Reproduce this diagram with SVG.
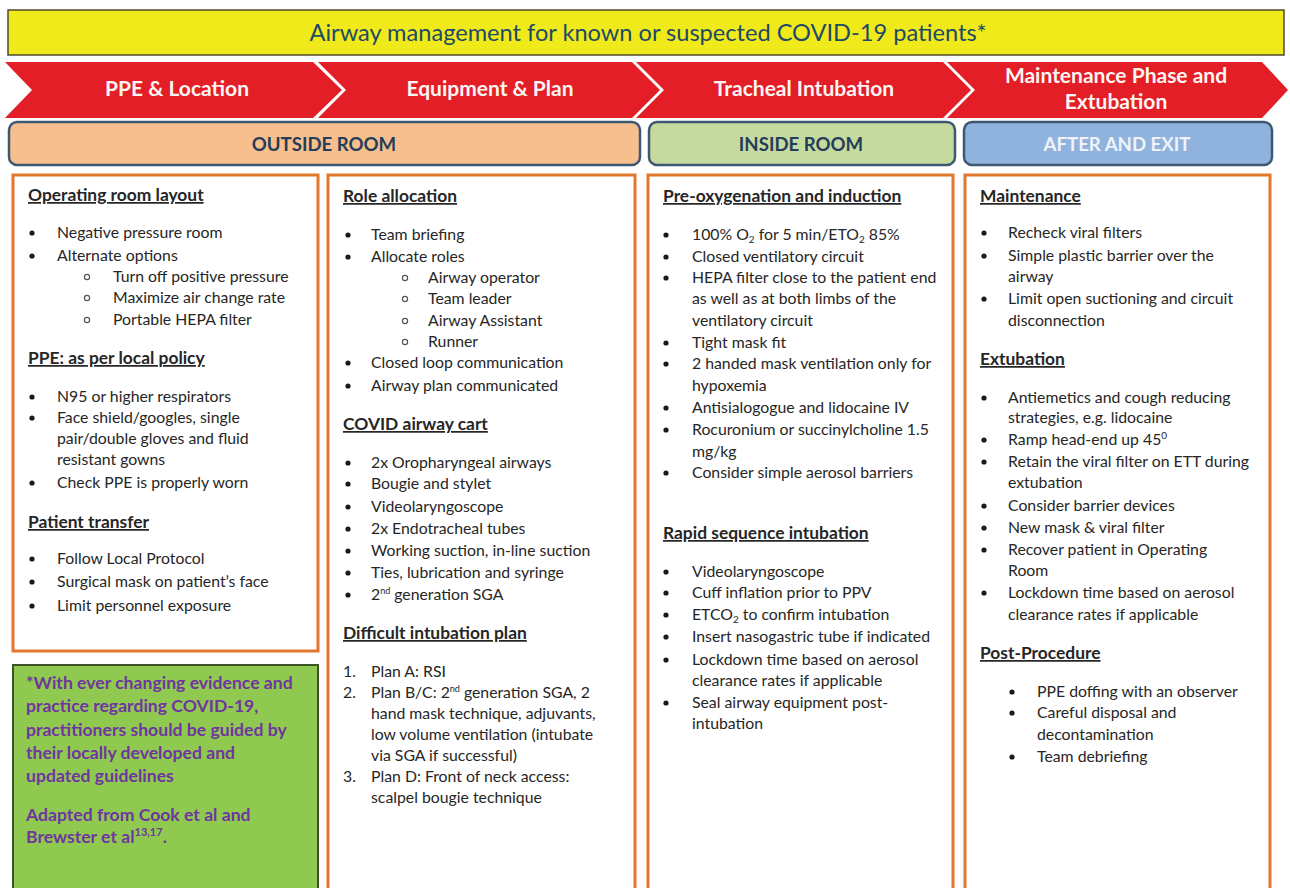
<svg xmlns="http://www.w3.org/2000/svg" width="1290" height="888" viewBox="0 0 1290 888">
  <style>
    .t { font-family: Lato, "Liberation Sans", sans-serif; font-size: 15.8px; fill: #262626; }
    .h { font-family: Lato, "Liberation Sans", sans-serif; font-size: 17.4px; font-weight: bold; fill: #262626; text-decoration: underline; }
    .chev { fill: #e41e26; }
    .ct { font-family: Lato, "Liberation Sans", sans-serif; font-size: 21px; font-weight: bold; fill: #fbf6f4; text-anchor: middle; }
    .room { stroke: #3e5873; stroke-width: 2.5; }
    .rt { font-family: Lato, "Liberation Sans", sans-serif; font-size: 18.6px; font-weight: bold; text-anchor: middle; }
    .col { fill: #ffffff; stroke: #e2772d; stroke-width: 3; }
    .dot { fill: #1a1a1a; }
    .ring { fill: none; stroke: #555555; stroke-width: 1.2; }
    .note { font-family: Lato, "Liberation Sans", sans-serif; font-size: 17.6px; font-weight: bold; fill: #6f35a0; }
  </style>

  <rect x="0" y="0" width="1290" height="888" fill="#ffffff"/>

  <!-- title banner -->
  <g id="title">
    <rect x="8" y="10" width="1276" height="45" fill="#f1ea1a" stroke="#4c4a2c" stroke-width="1.5"/>
    <text x="648" y="41" text-anchor="middle" font-family="Lato, 'Liberation Sans', sans-serif" font-size="23.6" fill="#1d4a66">Airway management for known or suspected COVID-19 patients*</text>
  </g>

  <!-- phase chevrons -->
  <g id="phase-ppe">
    <polygon class="chev" points="5,62 313,62 342,90 313,118 5,118 32,90"/>
    <text class="ct" x="177" y="96">PPE &amp; Location</text>
  </g>
  <g id="phase-equipment">
    <polygon class="chev" points="318,62 632,62 660,90 632,118 318,118 346,90"/>
    <text class="ct" x="490" y="96">Equipment &amp; Plan</text>
  </g>
  <g id="phase-intubation">
    <polygon class="chev" points="636,62 943,62 971,90 943,118 636,118 664,90"/>
    <text class="ct" x="804" y="96">Tracheal Intubation</text>
  </g>
  <g id="phase-maintenance">
    <polygon class="chev" points="947,62 1262,62 1288,90 1262,118 947,118 975,90"/>
    <text class="ct" x="1116" y="83">Maintenance Phase and</text>
    <text class="ct" x="1116" y="109">Extubation</text>
  </g>

  <!-- location bars -->
  <g id="outside-room">
    <rect class="room" x="9" y="122" width="631" height="43" rx="8" fill="#f8bf8e"/>
    <text class="rt" x="324" y="151" fill="#243d58">OUTSIDE ROOM</text>
  </g>
  <g id="inside-room">
    <rect class="room" x="649" y="122" width="306" height="43" rx="8" fill="#c5da9f"/>
    <text class="rt" x="801" y="151" fill="#243d58">INSIDE ROOM</text>
  </g>
  <g id="after-exit">
    <rect class="room" x="964" y="122" width="308" height="43" rx="8" fill="#90b3dd"/>
    <text class="rt" x="1117" y="151" fill="#eef3fa">AFTER AND EXIT</text>
  </g>

  <!-- column 1: operating room, PPE, transfer -->
  <g id="col-ppe-location">
    <rect class="col" x="13" y="175" width="305" height="476"/>
    <text class="h" x="28" y="201">Operating room layout</text>
    <circle class="dot" cx="32" cy="233" r="2.6"/><text class="t" x="57" y="238">Negative pressure room</text>
    <circle class="dot" cx="32" cy="256" r="2.6"/><text class="t" x="57" y="261">Alternate options</text>
    <circle class="ring" cx="87" cy="277" r="2.6"/><text class="t" x="113" y="282">Turn off positive pressure</text>
    <circle class="ring" cx="87" cy="298" r="2.6"/><text class="t" x="113" y="303">Maximize air change rate</text>
    <circle class="ring" cx="87" cy="320" r="2.6"/><text class="t" x="113" y="325">Portable HEPA filter</text>
    <text class="h" x="28" y="364">PPE: as per local policy</text>
    <circle class="dot" cx="32" cy="397" r="2.6"/><text class="t" x="57" y="402">N95 or higher respirators</text>
    <circle class="dot" cx="32" cy="418" r="2.6"/><text class="t" x="57" y="423">Face shield/googles, single</text>
    <text class="t" x="57" y="444">pair/double gloves and fluid</text>
    <text class="t" x="57" y="465">resistant gowns</text>
    <circle class="dot" cx="32" cy="483" r="2.6"/><text class="t" x="57" y="488">Check PPE is properly worn</text>
    <text class="h" x="28" y="528">Patient transfer</text>
    <circle class="dot" cx="32" cy="559" r="2.6"/><text class="t" x="57" y="564">Follow Local Protocol</text>
    <circle class="dot" cx="32" cy="582" r="2.6"/><text class="t" x="57" y="587">Surgical mask on patient’s face</text>
    <circle class="dot" cx="32" cy="606" r="2.6"/><text class="t" x="57" y="611">Limit personnel exposure</text>
  </g>

  <!-- footnote panel -->
  <g id="footnote">
    <rect x="13" y="665" width="305" height="240" fill="#8fc94f" stroke="#3b5326" stroke-width="2"/>
    <text class="note" x="26" y="689">*With ever changing evidence and</text>
    <text class="note" x="26" y="712">practice regarding COVID-19,</text>
    <text class="note" x="26" y="736">practitioners should be guided by</text>
    <text class="note" x="26" y="759">their locally developed and</text>
    <text class="note" x="26" y="782">updated guidelines</text>
    <text class="note" x="26" y="821">Adapted from Cook et al and</text>
    <text class="note" x="26" y="843">Brewster et al<tspan font-size="11" dy="-7">13,17</tspan><tspan dy="7">.</tspan></text>
  </g>

  <!-- column 2: roles, cart, plan -->
  <g id="col-equipment-plan">
    <rect class="col" x="328" y="175" width="307" height="730"/>
    <text class="h" x="343" y="202">Role allocation</text>
    <circle class="dot" cx="348" cy="235" r="2.6"/><text class="t" x="371" y="240">Team briefing</text>
    <circle class="dot" cx="348" cy="257" r="2.6"/><text class="t" x="371" y="262">Allocate roles</text>
    <circle class="ring" cx="405" cy="278" r="2.6"/><text class="t" x="428" y="283">Airway operator</text>
    <circle class="ring" cx="405" cy="299" r="2.6"/><text class="t" x="428" y="304">Team leader</text>
    <circle class="ring" cx="405" cy="321" r="2.6"/><text class="t" x="428" y="326">Airway Assistant</text>
    <circle class="ring" cx="405" cy="342" r="2.6"/><text class="t" x="428" y="347">Runner</text>
    <circle class="dot" cx="348" cy="363" r="2.6"/><text class="t" x="371" y="368">Closed loop communication</text>
    <circle class="dot" cx="348" cy="386" r="2.6"/><text class="t" x="371" y="391">Airway plan communicated</text>
    <text class="h" x="343" y="430">COVID airway cart</text>
    <circle class="dot" cx="348" cy="463" r="2.6"/><text class="t" x="371" y="468">2x Oropharyngeal airways</text>
    <circle class="dot" cx="348" cy="484" r="2.6"/><text class="t" x="371" y="489">Bougie and stylet</text>
    <circle class="dot" cx="348" cy="507" r="2.6"/><text class="t" x="371" y="512">Videolaryngoscope</text>
    <circle class="dot" cx="348" cy="529" r="2.6"/><text class="t" x="371" y="534">2x Endotracheal tubes</text>
    <circle class="dot" cx="348" cy="551" r="2.6"/><text class="t" x="371" y="556">Working suction, in-line suction</text>
    <circle class="dot" cx="348" cy="573" r="2.6"/><text class="t" x="371" y="578">Ties, lubrication and syringe</text>
    <circle class="dot" cx="348" cy="595" r="2.6"/><text class="t" x="371" y="600">2<tspan font-size="9" dy="-6">nd</tspan><tspan dy="6"> generation SGA</tspan></text>
    <text class="h" x="343" y="639">Difficult intubation plan</text>
    <text class="t" x="343" y="677">1.</text><text class="t" x="371" y="677">Plan A: RSI</text>
    <text class="t" x="343" y="698">2.</text><text class="t" x="371" y="698">Plan B/C: 2<tspan font-size="9" dy="-6">nd</tspan><tspan dy="6"> generation SGA, 2</tspan></text>
    <text class="t" x="371" y="719">hand mask technique, adjuvants,</text>
    <text class="t" x="371" y="740">low volume ventilation (intubate</text>
    <text class="t" x="371" y="761">via SGA if successful)</text>
    <text class="t" x="343" y="782">3.</text><text class="t" x="371" y="782">Plan D: Front of neck access:</text>
    <text class="t" x="371" y="803">scalpel bougie technique</text>
  </g>

  <!-- column 3: induction and intubation -->
  <g id="col-intubation">
    <rect class="col" x="648" y="175" width="305" height="730"/>
    <text class="h" x="663" y="202">Pre-oxygenation and induction</text>
    <circle class="dot" cx="666" cy="235" r="2.6"/><text class="t" x="692" y="240">100% O<tspan font-size="10" dy="3">2</tspan><tspan dy="-3"> for 5 min/ETO</tspan><tspan font-size="10" dy="3">2</tspan><tspan dy="-3"> 85%</tspan></text>
    <circle class="dot" cx="666" cy="257" r="2.6"/><text class="t" x="692" y="262">Closed ventilatory circuit</text>
    <circle class="dot" cx="666" cy="278" r="2.6"/><text class="t" x="692" y="283">HEPA filter close to the patient end</text>
    <text class="t" x="692" y="304">as well as at both limbs of the</text>
    <text class="t" x="692" y="326">ventilatory circuit</text>
    <circle class="dot" cx="666" cy="343" r="2.6"/><text class="t" x="692" y="348">Tight mask fit</text>
    <circle class="dot" cx="666" cy="364" r="2.6"/><text class="t" x="692" y="369">2 handed mask ventilation only for</text>
    <text class="t" x="692" y="391">hypoxemia</text>
    <circle class="dot" cx="666" cy="408" r="2.6"/><text class="t" x="692" y="413">Antisialogogue and lidocaine IV</text>
    <circle class="dot" cx="666" cy="430" r="2.6"/><text class="t" x="692" y="435">Rocuronium or succinylcholine 1.5</text>
    <text class="t" x="692" y="457">mg/kg</text>
    <circle class="dot" cx="666" cy="473" r="2.6"/><text class="t" x="692" y="478">Consider simple aerosol barriers</text>
    <text class="h" x="663" y="539">Rapid sequence intubation</text>
    <circle class="dot" cx="666" cy="572" r="2.6"/><text class="t" x="692" y="577">Videolaryngoscope</text>
    <circle class="dot" cx="666" cy="593" r="2.6"/><text class="t" x="692" y="598">Cuff inflation prior to PPV</text>
    <circle class="dot" cx="666" cy="615" r="2.6"/><text class="t" x="692" y="620">ETCO<tspan font-size="10" dy="3">2</tspan><tspan dy="-3"> to confirm intubation</tspan></text>
    <circle class="dot" cx="666" cy="637" r="2.6"/><text class="t" x="692" y="642">Insert nasogastric tube if indicated</text>
    <circle class="dot" cx="666" cy="660" r="2.6"/><text class="t" x="692" y="665">Lockdown time based on aerosol</text>
    <text class="t" x="692" y="686">clearance rates if applicable</text>
    <circle class="dot" cx="666" cy="703" r="2.6"/><text class="t" x="692" y="708">Seal airway equipment post-</text>
    <text class="t" x="692" y="729">intubation</text>
  </g>

  <!-- column 4: maintenance, extubation, post-procedure -->
  <g id="col-maintenance">
    <rect class="col" x="965" y="175" width="305" height="730"/>
    <text class="h" x="980" y="202">Maintenance</text>
    <circle class="dot" cx="984" cy="233" r="2.6"/><text class="t" x="1008" y="238">Recheck viral filters</text>
    <circle class="dot" cx="984" cy="256" r="2.6"/><text class="t" x="1008" y="261">Simple plastic barrier over the</text>
    <text class="t" x="1008" y="282">airway</text>
    <circle class="dot" cx="984" cy="299" r="2.6"/><text class="t" x="1008" y="304">Limit open suctioning and circuit</text>
    <text class="t" x="1008" y="326">disconnection</text>
    <text class="h" x="980" y="365">Extubation</text>
    <circle class="dot" cx="984" cy="398" r="2.6"/><text class="t" x="1008" y="403">Antiemetics and cough reducing</text>
    <text class="t" x="1008" y="423">strategies, e.g. lidocaine</text>
    <circle class="dot" cx="984" cy="440" r="2.6"/><text class="t" x="1008" y="445">Ramp head-end up 45<tspan font-size="10" dy="-6">0</tspan></text>
    <circle class="dot" cx="984" cy="462" r="2.6"/><text class="t" x="1008" y="467">Retain the viral filter on ETT during</text>
    <text class="t" x="1008" y="488">extubation</text>
    <circle class="dot" cx="984" cy="506" r="2.6"/><text class="t" x="1008" y="511">Consider barrier devices</text>
    <circle class="dot" cx="984" cy="528" r="2.6"/><text class="t" x="1008" y="533">New mask &amp; viral filter</text>
    <circle class="dot" cx="984" cy="550" r="2.6"/><text class="t" x="1008" y="555">Recover patient in Operating</text>
    <text class="t" x="1008" y="576">Room</text>
    <circle class="dot" cx="984" cy="593" r="2.6"/><text class="t" x="1008" y="598">Lockdown time based on aerosol</text>
    <text class="t" x="1008" y="620">clearance rates if applicable</text>
    <text class="h" x="980" y="659">Post-Procedure</text>
    <circle class="dot" cx="1012" cy="692" r="2.6"/><text class="t" x="1037" y="697">PPE doffing with an observer</text>
    <circle class="dot" cx="1012" cy="713" r="2.6"/><text class="t" x="1037" y="718">Careful disposal and</text>
    <text class="t" x="1037" y="740">decontamination</text>
    <circle class="dot" cx="1012" cy="757" r="2.6"/><text class="t" x="1037" y="762">Team debriefing</text>
  </g>

  <g id="connectors"></g>
</svg>
